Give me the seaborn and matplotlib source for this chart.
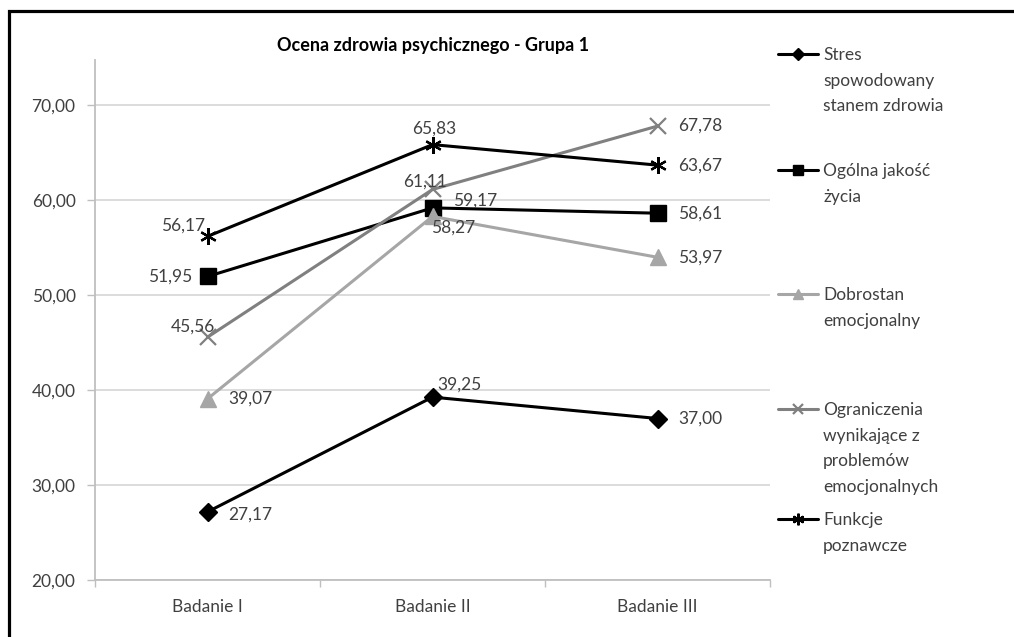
import pandas as pd
import matplotlib.pyplot as plt
import matplotlib.patches as patches
from matplotlib.ticker import FuncFormatter, FixedLocator
import seaborn as sns

badania = ["Badanie I", "Badanie II", "Badanie III"]

stres = [27.17, 39.25, 37.00]
ogolna = [51.95, 59.17, 58.61]
dobrostan = [39.07, 58.27, 53.97]
ograniczenia = [45.56, 61.11, 67.78]
funkcje = [56.17, 65.83, 63.67]

nazwy = ["Stres\nspowodowany\nstanem zdrowia",
         "Ogólna jakość\nżycia",
         "Dobrostan\nemocjonalny",
         "Ograniczenia\nwynikające z\nproblemów\nemocjonalnych",
         "Funkcje\npoznawcze"]

sns.set_theme(style="white")
plt.rcParams['font.family'] = ['Lato', 'DejaVu Sans']

fig = plt.figure(figsize=(10.14, 6.37), dpi=100)
ax = fig.add_axes([95/1014, 1-580/637, 675/1014, 520/637])

fs = 12.5

def fmt(v):
    return f"{v:.2f}".replace(".", ",")

# series: values, color, marker, marker size, label offsets (pixels, dx, dy-up, ha)
seria = [
    (stres, "#000000", "D", 9, [(21, -3, "left"), (27, 13, "center"), (21, 0, "left")]),
    (ogolna, "#000000", "s", 11, [(-37, 0, "center"), (43, 7, "center"), (21, 0, "left")]),
    (dobrostan, "#a6a6a6", "^", 11, [(21, 0, "left"), (21, -11, "center"), (21, 0, "left")]),
    (ograniczenia, "#808080", "x", 11, [(-15, 11, "center"), (-7, 8, "center"), (21, 0, "left")]),
    (funkcje, "#000000", (6, 2, 0), 12, [(-24, 11, "center"), (2, 16, "center"), (21, 0, "left")]),
]

for (vals, col, mk, ms, offs), nazwa in zip(seria, nazwy):
    df = pd.DataFrame({"badanie": badania, "wynik": vals})
    sns.lineplot(data=df, x="badanie", y="wynik", color=col, marker=mk,
                 markersize=ms, linewidth=2.2, markeredgecolor=col,
                 markeredgewidth=1.6 if mk in ("x", (6, 2, 0)) else 1,
                 label=nazwa.split("\n")[0], ax=ax, legend=False)
    for i, v in enumerate(vals):
        dx, dy, ha = offs[i]
        ax.annotate(fmt(v), (i, v), xytext=(dx, dy), textcoords="offset pixels",
                    ha=ha, va="center", fontsize=fs, color="#404040")

ax.set_xlim(-0.5, 2.5)
ax.set_ylim(20, 20 + 520/9.5)
ax.set_yticks([20, 30, 40, 50, 60, 70])
ax.yaxis.set_major_formatter(FuncFormatter(lambda v, p: fmt(v)))
ax.set_xticks(range(3))
ax.set_xticklabels(badania)
ax.xaxis.set_minor_locator(FixedLocator([-0.5, 0.5, 1.5, 2.5]))
ax.tick_params(axis="x", which="major", length=0, pad=14, labelsize=fs, labelcolor="#404040")
ax.tick_params(axis="x", which="minor", length=5, width=1, color="#bfbfbf", bottom=True)
ax.tick_params(axis="y", length=6, width=1, color="#bfbfbf", left=True, pad=8,
               labelsize=fs, labelcolor="#404040")
ax.set_xlabel("")
ax.set_ylabel("")
ax.grid(axis="y", color="#d9d9d9", linewidth=1.3)
ax.set_axisbelow(True)
for s in ["top", "right"]:
    ax.spines[s].set_visible(False)
for s in ["left", "bottom"]:
    ax.spines[s].set_color("#bfbfbf")
    ax.spines[s].set_linewidth(1.3)

fig.text(433/1014, 1-45/637, "Ocena zdrowia psychicznego - Grupa 1",
         ha="center", va="center", fontsize=13, fontweight="bold", color="#000000")

# legend: one entry at a time so the handle sits on the first line of the label
handles, labels = ax.get_legend_handles_labels()
pierwsza_y = [55, 171, 295, 410, 520]
linia = 25.7
legendy = []
for h, l, y in zip(handles, labels, pierwsza_y):
    leg = fig.legend([h], [l], loc="center left", bbox_to_anchor=(778/1014, 1-y/637),
                     frameon=False, borderpad=0, borderaxespad=0, handlelength=2.3,
                     handletextpad=0.3, markerscale=0.7, fontsize=fs,
                     labelcolor="#404040")
    legendy.append(leg)

fig.canvas.draw()
for leg, nazwa, y in zip(legendy, nazwy, pierwsza_y):
    x0 = leg.get_texts()[0].get_window_extent().x0 / 1014
    for k, reszta in enumerate(nazwa.split("\n")[1:], start=1):
        fig.text(x0, 1-(y + k*linia)/637, reszta, ha="left", va="center",
                 fontsize=fs, color="#404040")

ramka = patches.Rectangle((9/1014, -0.2), 1.2, 0.2 + 1-11/637, transform=fig.transFigure,
                          fill=False, edgecolor="black", linewidth=2.3, clip_on=False)
fig.patches.append(ramka)

fig.savefig("out.png", dpi=100)
